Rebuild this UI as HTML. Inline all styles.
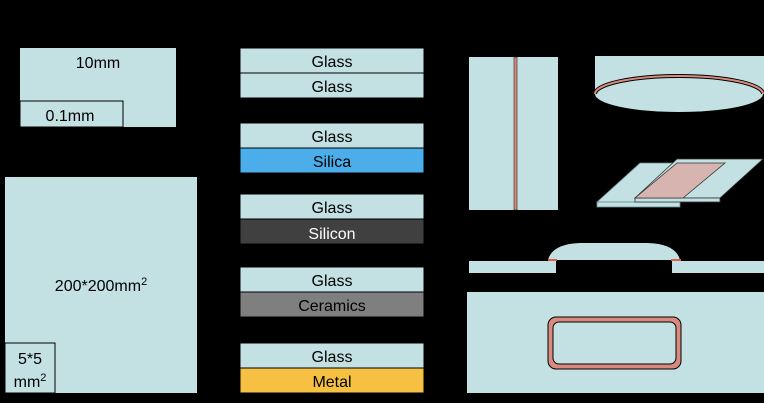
<!DOCTYPE html>
<html><head><meta charset="utf-8"><style>
html,body{margin:0;padding:0;background:#000;}
svg{display:block;}
text{font-family:"Liberation Sans",Arial,sans-serif;font-size:16px;text-anchor:middle;}
</style></head><body>
<svg width="764" height="403" viewBox="0 0 764 403">
<rect width="764" height="403" fill="#000"/>
<g fill="#c3e0e2">
<rect x="20" y="48" width="156" height="79"/>
<rect x="5" y="177" width="192" height="216"/>
</g>
<rect x="20" y="101" width="103" height="26" fill="#c3e0e2" stroke="#000" stroke-width="1"/>
<rect x="5" y="343" width="50" height="50" fill="#c3e0e2" stroke="#000" stroke-width="1"/>
<text x="98" y="68">10mm</text>
<text x="70" y="121">0.1mm</text>
<text x="101" y="291">200*200mm<tspan font-size="11" dy="-6">2</tspan></text>
<text x="30" y="364">5*5</text>
<text x="30" y="387">mm<tspan font-size="11" dy="-6">2</tspan></text>

<g stroke="#000" stroke-width="1">
<rect x="240" y="48" width="184" height="25" fill="#c3e0e2"/>
<rect x="240" y="73" width="184" height="25" fill="#c3e0e2"/>
<rect x="240" y="123" width="184" height="25" fill="#c3e0e2"/>
<rect x="240" y="148" width="184" height="25" fill="#4baeea"/>
<rect x="240" y="194" width="184" height="25" fill="#c3e0e2"/>
<rect x="240" y="219" width="184" height="25" fill="#404040"/>
<rect x="240" y="267" width="184" height="25" fill="#c3e0e2"/>
<rect x="240" y="292" width="184" height="25" fill="#7f7f7f"/>
<rect x="240" y="343" width="184" height="25" fill="#c3e0e2"/>
<rect x="240" y="368" width="184" height="25" fill="#f6c142"/>
</g>
<text x="332" y="67">Glass</text>
<text x="332" y="92">Glass</text>
<text x="332" y="142">Glass</text>
<text x="332" y="167">Silica</text>
<text x="332" y="213">Glass</text>
<text x="332" y="239" fill="#fff">Silicon</text>
<text x="332" y="286">Glass</text>
<text x="332" y="311">Ceramics</text>
<text x="332" y="362">Glass</text>
<text x="332" y="387">Metal</text>

<rect x="469" y="57" width="89" height="153" fill="#c3e0e2"/>
<rect x="514" y="57" width="3" height="153" fill="#d98a7e" stroke="#000" stroke-width="0.5"/>

<rect x="595" y="56" width="169" height="38" fill="#c3e0e2"/>
<ellipse cx="679" cy="94" rx="84" ry="18" fill="#c3e0e2"/>
<path d="M595,94 A84,18 0 0 1 763,94" fill="none" stroke="#000" stroke-width="4"/>
<path d="M595,94 A84,18 0 0 1 763,94" fill="none" stroke="#d98a7e" stroke-width="2"/>

<polygon points="597,202 640,163 720,163 680,202" fill="#c3e0e2" stroke="#6a8a8a" stroke-width="0.8"/>
<rect x="597" y="202" width="83" height="5" fill="#c3e0e2" stroke="#6a8a8a" stroke-width="0.8"/>
<polygon points="635,198 677,159 763,159 720,198" fill="#c3e0e2" stroke="#333" stroke-width="0.8"/>
<rect x="635" y="198" width="85" height="4" fill="#c3e0e2" stroke="#333" stroke-width="0.8"/>
<polygon points="635,198 677,163 725,163 683,198" fill="#d8b4b0" stroke="#333" stroke-width="0.8"/>

<rect x="469" y="261" width="87" height="12" fill="#c3e0e2"/>
<rect x="672" y="261" width="92" height="12" fill="#c3e0e2"/>
<path d="M548,260 Q552,244 580,243 L648,243 Q676,244 680,260 Z" fill="#c3e0e2"/>
<rect x="548" y="259" width="9" height="2" fill="#d9604a"/>
<rect x="671" y="259" width="10" height="2" fill="#d9604a"/>

<rect x="467" y="292" width="297" height="101" fill="#c3e0e2"/>
<rect x="548" y="317" width="133" height="52" rx="8" fill="#d98a7e" stroke="#000" stroke-width="1"/>
<rect x="553" y="322" width="123" height="42" rx="6" fill="#c3e0e2" stroke="#000" stroke-width="1"/>
</svg>
</body></html>
